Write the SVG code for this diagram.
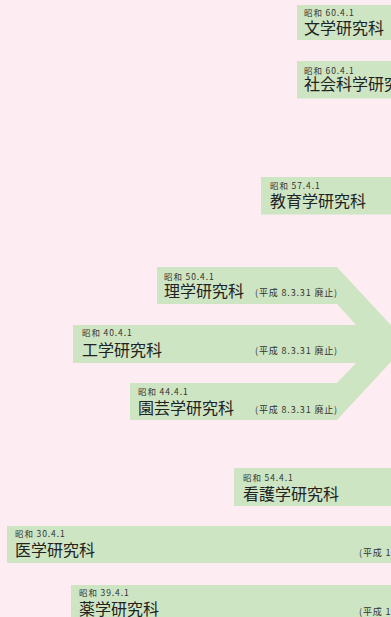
<svg xmlns="http://www.w3.org/2000/svg" width="391" height="617" viewBox="0 0 391 617">
<style>
.bg{fill:#fdedf2}
.bar{fill:#cee5c3}
.sm{font-family:"Noto Sans CJK JP","Noto Sans",sans-serif;font-size:8.5px;fill:#333;letter-spacing:0.9px}
.mn{font-family:"Noto Sans CJK JP","Noto Sans",sans-serif;font-size:16px;fill:#222}
.nt{font-family:"Noto Sans CJK JP","Noto Sans",sans-serif;font-size:9px;fill:#333;letter-spacing:0.85px}
</style>
<rect class="bg" x="0" y="0" width="391" height="617"/>
<g id="connectors">
<path class="bar" d="M157,267 H337 L408,343.5 L337,420 H130 V383 H337 L356,363 H73 V325 H356 L337,304 H157 Z"/>
</g>
<g id="bungaku">
<rect class="bar" x="297" y="5" width="94" height="35"/>
<text class="sm" x="304" y="15.5">昭和 60.4.1</text>
<text class="mn" x="304" y="33.5">文学研究科</text>
</g>
<g id="shakai">
<rect class="bar" x="297" y="61" width="94" height="37.5"/>
<text class="sm" x="304" y="74">昭和 60.4.1</text>
<text class="mn" x="304" y="90">社会科学研究</text>
</g>
<g id="kyoiku">
<rect class="bar" x="261" y="177" width="130" height="37.5"/>
<text class="sm" x="270" y="189">昭和 57.4.1</text>
<text class="mn" x="270" y="207">教育学研究科</text>
</g>
<g id="rigaku">
<text class="sm" x="164" y="280">昭和 50.4.1</text>
<text class="mn" x="164" y="296.5">理学研究科</text>
<text class="nt" x="255" y="295.5">(平成 8.3.31 廃止)</text>
</g>
<g id="kogaku">
<text class="sm" x="82" y="335.7">昭和 40.4.1</text>
<text class="mn" x="82" y="355.5">工学研究科</text>
<text class="nt" x="255" y="354">(平成 8.3.31 廃止)</text>
</g>
<g id="engei">
<text class="sm" x="138" y="395">昭和 44.4.1</text>
<text class="mn" x="138" y="414">園芸学研究科</text>
<text class="nt" x="255" y="413">(平成 8.3.31 廃止)</text>
</g>
<g id="kango">
<rect class="bar" x="234" y="468" width="157" height="38"/>
<text class="sm" x="243" y="480.7">昭和 54.4.1</text>
<text class="mn" x="243" y="499.5">看護学研究科</text>
</g>
<g id="igaku">
<rect class="bar" x="7" y="526" width="384" height="37"/>
<text class="sm" x="15" y="537.3">昭和 30.4.1</text>
<text class="mn" x="15" y="556">医学研究科</text>
<text class="nt" x="359" y="556">(平成 1</text>
</g>
<g id="yakugaku">
<rect class="bar" x="71" y="585" width="320" height="32"/>
<text class="sm" x="79" y="595.7">昭和 39.4.1</text>
<text class="mn" x="79" y="614.5">薬学研究科</text>
<text class="nt" x="359" y="615">(平成 1</text>
</g>
</svg>
